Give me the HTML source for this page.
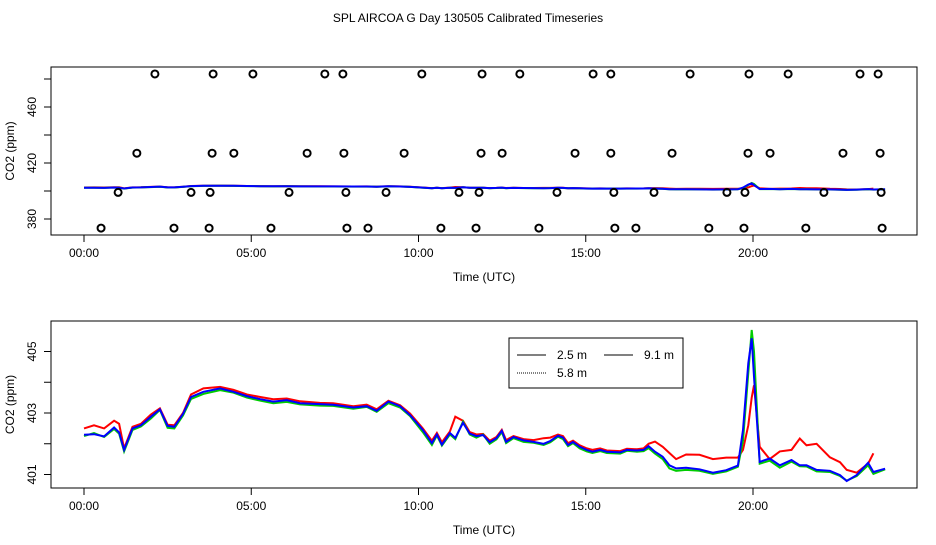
<!DOCTYPE html>
<html><head><meta charset="utf-8"><style>
body{margin:0;background:#fff;}
svg text{font-family:"Liberation Sans",sans-serif;font-size:12px;fill:#000;}
</style></head><body>
<svg id="c" width="936" height="540" xmlns="http://www.w3.org/2000/svg">
<rect width="936" height="540" fill="#fff"/>
<text x="468" y="22" text-anchor="middle">SPL AIRCOA G  Day 130505  Calibrated Timeseries</text>
<g id="top"></g>
<g id="bot"></g>
</svg>
<script>
const hours=[0,0.3,0.6,0.9,1.05,1.2,1.45,1.7,2.0,2.27,2.5,2.7,2.96,3.2,3.57,4.07,4.47,4.87,5.27,5.66,6.06,6.46,7.05,7.45,8.05,8.45,8.75,9.1,9.45,9.75,10.13,10.4,10.55,10.7,10.94,11.1,11.33,11.53,11.73,11.93,12.13,12.33,12.49,12.62,12.84,13.14,13.44,13.74,13.94,14.17,14.32,14.47,14.62,14.82,15.03,15.2,15.43,15.63,16.03,16.23,16.53,16.73,16.88,17.07,17.3,17.5,17.7,18.0,18.4,18.8,19.2,19.55,19.7,19.86,19.96,20.03,20.2,20.5,20.8,21.15,21.4,21.6,21.9,22.3,22.6,22.8,23.1,23.44,23.6,23.95];
const blue=[402.29,402.31,402.24,402.53,402.37,401.8,402.5,402.6,402.88,403.12,402.58,402.55,402.97,403.52,403.69,403.8,403.69,403.55,403.45,403.37,403.42,403.32,403.29,403.27,403.18,403.22,403.07,403.37,403.22,402.93,402.45,402.02,402.3,401.97,402.35,402.19,402.68,402.33,402.25,402.28,402.05,402.18,402.42,402.06,402.22,402.11,402.06,402.0,402.09,402.26,402.2,401.96,402.06,401.9,401.8,401.74,401.8,401.74,401.72,401.8,401.78,401.8,401.92,401.74,401.58,401.3,401.2,401.22,401.17,401.06,401.14,401.29,402.45,404.62,405.43,404.18,401.41,401.52,401.3,401.47,401.3,401.3,401.15,401.12,400.98,400.79,400.98,401.38,401.08,401.19];
const red=[402.5,402.6,402.5,402.75,402.65,401.85,402.55,402.65,402.95,403.15,402.62,402.6,403.0,403.6,403.8,403.85,403.75,403.6,403.52,403.45,403.47,403.38,403.33,403.32,403.22,403.27,403.12,403.4,403.25,402.98,402.5,402.1,402.35,402.05,402.4,402.88,402.75,402.38,402.3,402.32,402.1,402.22,402.45,402.12,402.25,402.15,402.12,402.18,402.2,402.3,402.25,402.02,402.1,401.95,401.85,401.8,401.85,401.78,401.76,401.84,401.82,401.85,402.0,402.07,401.9,401.7,401.5,401.65,401.64,401.5,401.55,401.55,401.8,402.6,403.5,403.9,401.9,401.5,401.75,401.8,402.17,401.95,402.0,401.56,401.4,401.15,401.06,401.35,401.69,null];
const green=[402.25,402.35,402.22,402.48,402.33,401.75,402.45,402.56,402.82,403.1,402.52,402.5,402.92,403.46,403.62,403.74,403.66,403.5,403.4,403.32,403.36,403.28,403.24,403.23,403.14,403.2,403.04,403.32,403.18,402.9,402.38,401.96,402.27,401.94,402.3,402.15,402.72,402.3,402.2,402.3,402.0,402.14,402.38,402.02,402.18,402.06,402.03,401.96,402.05,402.23,402.15,401.92,402.02,401.85,401.75,401.7,401.76,401.7,401.68,401.77,401.74,401.76,401.86,401.68,401.5,401.2,401.12,401.15,401.12,401.02,401.1,401.25,402.1,404.3,405.7,405.0,401.35,401.45,401.22,401.42,401.27,401.26,401.1,401.08,400.95,400.8,400.95,401.3,401.02,401.17];
const circHours=[[2.12,3.86,5.05,7.2,7.74,10.1,11.9,13.03,15.22,15.75,18.12,19.88,21.05,23.2,23.74],[1.58,3.83,4.48,6.67,7.77,9.57,11.87,12.5,14.68,15.75,17.58,19.85,20.51,22.69,23.8],[1.02,3.2,3.77,6.13,7.83,9.03,11.21,11.81,14.14,15.84,17.04,19.22,19.76,22.12,23.83],[0.51,2.69,3.74,5.59,7.86,8.49,10.67,11.72,13.6,15.87,16.5,18.68,19.73,21.58,23.86]];
const circVals=[483.6,427,399,373.5];
const xTickHours=[0,5,10,15,20];
const xTickLabels=["00:00","05:00","10:00","15:00","20:00"];
const topYTicks=[380,400,420,440,460,480];
const topYLabels=[380,420,460];
const botYTicks=[401,402,403,404,405];
const botYLabels=[401,403,405];

const NS="http://www.w3.org/2000/svg";
function mk(p,t,a){const e=document.createElementNS(NS,t);for(const k in a)e.setAttribute(k,a[k]);p.appendChild(e);return e;}
const X=h=>84+h*33.45;
function panel(g,y0,y1,Y,yt,yl,name){
  const b=mk(g,'rect',{x:51,y:y0,width:866,height:y1-y0,fill:'none',stroke:'#000','stroke-width':1});
  
  
  xTickHours.forEach((h,i)=>{
    const t=mk(g,'line',{x1:X(h),x2:X(h),y1:y1,y2:y1+7,stroke:'#000'});
    
    
    const l=mk(g,'text',{x:X(h),y:y1+22,'text-anchor':'middle'});l.textContent=xTickLabels[i];
    
    
  });
  const xt=mk(g,'text',{x:484,y:y1+46,'text-anchor':'middle'});xt.textContent='Time (UTC)';
  
  
  yt.forEach(v=>{
    const t=mk(g,'line',{x1:44,x2:51,y1:Y(v),y2:Y(v),stroke:'#000'});
    
    
  });
  yl.forEach(v=>{
    const l=mk(g,'text',{x:36,y:Y(v),'text-anchor':'middle',transform:`rotate(-90 36 ${Y(v)})`});l.textContent=v;
    
    
  });
  const cy=(y0+y1)/2;
  const yti=mk(g,'text',{x:14,y:cy,'text-anchor':'middle',transform:`rotate(-90 14 ${cy})`});yti.textContent='CO2 (ppm)';
  
  
}
function series(g,Y,vals,col,w,dash,name){
  let d='';let pen=false;
  vals.forEach((v,i)=>{if(v==null){pen=false;return;}d+=(pen?'L':'M')+X(hours[i]).toFixed(1)+' '+Y(v).toFixed(1);pen=true;});
  const p=mk(g,'path',{d:d,fill:'none',stroke:col,'stroke-width':w});
  if(dash)p.setAttribute('stroke-dasharray',dash);
  
  
}
// top panel
const gt=document.getElementById('top');
const Yt=v=>219-(v-380)*1.4;
panel(gt,67,235,Yt,topYTicks,topYLabels,'top-panel');
series(gt,Yt,red,'#f00',2,null,'top-line-2.5m');
series(gt,Yt,green,'#0c0',2,null,'top-line-5.8m');
series(gt,Yt,blue,'#00f',2,null,'top-line-9.1m');
circHours.forEach((row,r)=>row.forEach(h=>{
  const c=mk(gt,'circle',{cx:X(h),cy:Yt(circVals[r]),r:3.5,fill:'none',stroke:'#000','stroke-width':2});
  
  
}));
// bottom panel
const gb=document.getElementById('bot');
const Yb=v=>474.5-(v-401)*30.75;
panel(gb,321,488,Yb,botYTicks,botYLabels,'bottom-panel');
series(gb,Yb,red,'#f00',2,null,'line-2.5m');
series(gb,Yb,green,'#0c0',2,null,'line-5.8m');
series(gb,Yb,blue,'#00f',2,null,'line-9.1m');
// legend
const lg=mk(gb,'g',{});


mk(lg,'rect',{x:509,y:338,width:174,height:50,fill:'#fff',stroke:'#000'});
const ents=[[517,355,'2.5 m',null],[604,355,'9.1 m',null],[517,373,'5.8 m','1 1']];
ents.forEach(e=>{
  const li=mk(lg,'line',{x1:e[0],x2:e[0]+29,y1:e[1],y2:e[1],stroke:'#000'});
  if(e[3])li.setAttribute('stroke-dasharray',e[3]);
  
  
  const t=mk(lg,'text',{x:e[0]+40,y:e[1]+4});t.textContent=e[2];
  
  
});
</script>
</body></html>
